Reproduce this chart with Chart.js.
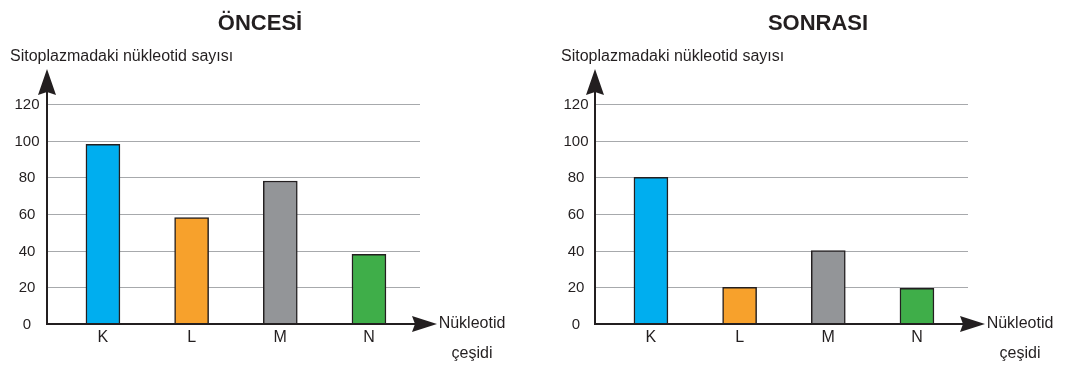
<!DOCTYPE html>
<html>
<head>
<meta charset="utf-8">
<script src="https://cdn.jsdelivr.net/npm/chart.js@4"></script>
<style>
  body { margin: 0; background: #fff; }
  .box { position: absolute; top: 0; height: 372px; }
</style>
</head>
<body>
<div class="box" style="left:0;width:540px"><canvas id="before"></canvas></div>
<div class="box" style="left:548px;width:532px"><canvas id="after"></canvas></div>
<script>
const categories = ["K", "L", "M", "N"];
const beforeValues = [98, 58, 78, 38];
const afterValues = [80, 20, 40, 19.5];
const barColors = ["#00aeef", "#f7a12c", "#939598", "#3fae49"];
const yMax = 120;
const yStep = 20;

const ink = "#231f20";
const font = "'Liberation Sans', Arial, sans-serif";

// axes, arrows, gridlines and labels drawn around the bars
const sketch = {
  id: "sketch",
  beforeDatasetsDraw(chart, args, o) {
    const { ctx } = chart;
    const y = chart.scales.y;
    ctx.save();
    ctx.strokeStyle = "#a7a9ac";
    ctx.lineWidth = 1;
    y.ticks.forEach((t) => {
      if (t.value === 0) return;
      const py = Math.round(y.getPixelForValue(t.value)) + 0.5;
      ctx.beginPath();
      ctx.moveTo(o.axisX, py);
      ctx.lineTo(o.gridEnd, py);
      ctx.stroke();
    });
    ctx.restore();
  },
  afterDatasetsDraw(chart, args, o) {
    const { ctx } = chart;
    const x = chart.scales.x;
    const y = chart.scales.y;
    const y0 = y.getPixelForValue(0);
    ctx.save();
    ctx.strokeStyle = ink;
    ctx.fillStyle = ink;
    ctx.lineWidth = 2;
    // y axis + arrow
    ctx.beginPath();
    ctx.moveTo(o.axisX, y0 + 1);
    ctx.lineTo(o.axisX, 92);
    ctx.stroke();
    ctx.beginPath();
    ctx.moveTo(o.axisX, 69);
    ctx.lineTo(o.axisX - 9, 95);
    ctx.lineTo(o.axisX, 92);
    ctx.lineTo(o.axisX + 9, 95);
    ctx.closePath();
    ctx.fill();
    // x axis + arrow
    ctx.beginPath();
    ctx.moveTo(o.axisX - 1, y0);
    ctx.lineTo(416, y0);
    ctx.stroke();
    ctx.beginPath();
    ctx.moveTo(437, y0);
    ctx.lineTo(412, y0 - 8);
    ctx.lineTo(415, y0);
    ctx.lineTo(412, y0 + 8);
    ctx.closePath();
    ctx.fill();

    // tick labels
    ctx.font = "15px " + font;
    ctx.textAlign = "center";
    ctx.textBaseline = "middle";
    y.ticks.forEach((t) => {
      ctx.fillText(String(t.value), o.tickX, y.getPixelForValue(t.value) + 1);
    });
    ctx.font = "16px " + font;
    categories.forEach((c, i) => {
      ctx.fillText(c, x.getPixelForValue(i), 338);
    });
    ctx.fillText("Nükleotid", 472, y0);
    ctx.fillText("çeşidi", 472, 354);

    ctx.textAlign = "left";
    ctx.fillText("Sitoplazmadaki nükleotid sayısı", o.yTitleX, 57);

    ctx.font = "bold 22px " + font;
    ctx.textAlign = "center";
    ctx.fillText(o.title, o.titleX, 24);
    ctx.restore();
  },
};

function makeChart(id, values, extra, padRight) {
  return new Chart(document.getElementById(id), {
    type: "bar",
    data: {
      labels: categories,
      datasets: [
        {
          data: values,
          backgroundColor: barColors,
          borderColor: ink,
          borderWidth: 1.5,
          barThickness: 34,
        },
      ],
    },
    options: {
      responsive: true,
      maintainAspectRatio: false,
      animation: false,
      layout: { padding: { left: 58.6, right: padRight, top: 104, bottom: 48 } },
      plugins: {
        legend: { display: false },
        tooltip: { enabled: false },
        sketch: extra,
      },
      scales: {
        x: { display: false },
        y: { display: false, min: 0, max: yMax, ticks: { stepSize: yStep } },
      },
    },
    plugins: [sketch],
  });
}

makeChart("before", beforeValues,
  { title: "ÖNCESİ", titleX: 260, axisX: 47, gridEnd: 420, tickX: 27, yTitleX: 10 }, 540 - 413.3);
makeChart("after", afterValues,
  { title: "SONRASI", titleX: 270, axisX: 47, gridEnd: 420, tickX: 28, yTitleX: 13 }, 532 - 413.3);
</script>
</body>
</html>
